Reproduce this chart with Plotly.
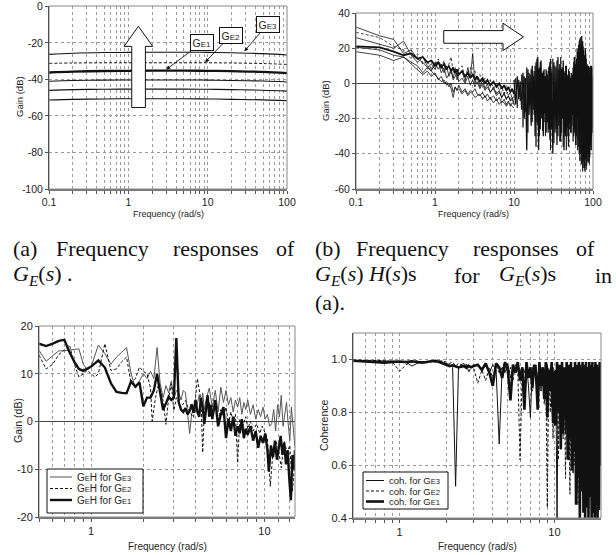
import numpy as np
import plotly.graph_objects as go

W, H = 616, 555
SANS = "Liberation Sans, Arial, sans-serif"
SERIF = "Liberation Serif, Times New Roman, serif"


def px(x):
    return x / W


def py(y):
    return 1 - y / H


# ---------------- Panel (a): G_E(s) gains ----------------
FREQ_A = [0.1, 0.2, 0.5, 1, 2, 5, 10, 20, 50, 100]
GAIN_A1 = [-26.3, -25.7, -25.3, -25.2, -25.1, -25.1, -25.2, -25.4, -25.9, -26.6]
GAIN_A2 = [-31.2, -31.0, -30.9, -30.9, -30.9, -30.9, -30.9, -31.0, -31.3, -31.8]
GAIN_A3 = [-36.2, -35.7, -35.4, -35.3, -35.2, -35.2, -35.3, -35.5, -35.9, -36.6]
GAIN_A4 = [-41.0, -40.6, -40.4, -40.3, -40.3, -40.3, -40.4, -40.6, -40.9, -41.4]
GAIN_A5 = [-46.0, -45.6, -45.4, -45.3, -45.3, -45.3, -45.4, -45.6, -45.9, -46.4]
GAIN_A6 = [-51.3, -50.9, -50.7, -50.6, -50.6, -50.6, -50.7, -50.9, -51.2, -51.7]
ARROW_A_X = [1.104, 1.104, 0.883, 1.34, 2.03, 1.64, 1.64, 1.104]
ARROW_A_Y = [-55.4, -21.9, -21.9, -10.9, -21.9, -21.9, -55.4, -55.4]
LABELS_A = ["G<span style='font-size:8px'>E1</span>",
            "G<span style='font-size:8px'>E2</span>",
            "G<span style='font-size:8px'>E3</span>"]
LABEL_TIP_F = [3.0, 9.3, 29.0]
LABEL_TIP_G = [-34.6, -30.6, -24.6]
LABEL_BOX_F = [8.5, 19.5, 56.9]
LABEL_BOX_G = [-19.9, -15.8, -9.8]

# ---------------- Panel (b): G_E(s)H(s) ----------------
FREQ_B_LOW = [0.1, 0.2, 0.3, 0.4, 0.5, 0.6, 0.7, 0.8, 0.9, 1.0,
              1.1, 1.2, 1.3, 1.4, 1.5, 1.6, 1.7, 1.8, 1.9, 2.0,
              2.2, 2.4, 2.6, 2.8, 3.0, 3.2, 3.4, 3.7, 4.0, 4.3,
              4.6, 5.0, 5.5, 6.0, 6.5, 7.0, 7.5, 8.0, 8.5, 9.0,
              9.5, 10.0]
GAIN_B1 = [32, 27, 25, 17, 19, 14, 12, 9, 11, 8, 12, 6, 9, 3, 5, 8, 2, 4, 6, 1,
           3, 0, 4, -1, 2, -2, 1, -3, 0, -4, -2, -5, -3, -7, -5, -8, -6, -9, -7, -10,
           -8, -11]
GAIN_B2 = [29, 26, 21, 19, 14, 17, 11, 13, 8, 10, 14, 9, 13, 7, 11, 15, 6, 9, 4, 8,
           10, 3, 6, 9, 4, 7, 2, 5, 1, 3, -1, 2, -3, 0, -4, -2, -6, -3, -7, -5,
           -9, -7]
GAIN_B3 = [26, 22, 20, 24, 16, 12, 15, 10, 7, 12, 8, 11, 6, 10, 4, 7, 3, 8, 2, 5,
           7, 1, 9, 3, 17, 0, 4, -2, 2, -3, 0, -5, -2, -6, -4, -8, -5, -9, -7, -10,
           -9, -12]
GAIN_B4 = [21, 20.5, 18, 16, 17, 14, 15, 12, 13, 10, 12, 9, 11, 8, 10, 7, 9, 6, 8, 5,
           7, 4, 6, 3, 5, 2, 4, 1, 3, 0, 2, -1, 1, -2, 0, -3, -1, -4, -2, -5,
           -3, -6]
GAIN_B5 = [20.5, 19, 16, 15, 12, 10, 6, 9, 7, 5, 3, 1, 2, -1, 0, -3, -8, -2, -4, -1,
           -5, -3, -6, -4, -5, -3, -6, -7, -5, -8, -6, -9, -7, -10, -8, -11, -9, -12, -10, -13,
           -11, -12]
GAIN_B6 = [18, 16, 13, 15, 11, 8, 5, 7, 4, 6, 2, 4, 0, 1, -2, 0, -5, -2, -4, -3,
           -6, -4, -7, -5, -6, -8, -7, -6, -9, -7, -10, -8, -11, -9, -12, -10, -11, -13, -11, -12,
           -13, -14]
FREQ_B_HIGH = [10, 10.5, 11, 11.5, 12, 12.5, 13, 13.5, 14, 14.5,
               15, 15.5, 16, 16.5, 17, 17.5, 18, 18.5, 19, 19.5,
               20, 20.5, 21, 21.5, 22, 22.5, 23, 23.5, 24, 24.5,
               25, 25.5, 26, 26.5, 27, 27.5, 28, 28.5, 29, 29.5, 30,
               31, 32, 33, 34, 35, 36, 37, 38, 39, 40,
               41, 42, 43, 44, 45, 46, 47, 48, 49, 50,
               51, 52, 53, 54, 55, 56, 57, 58, 59, 60,
               61, 62, 63, 64, 65, 66, 67, 68, 69, 70,
               71, 72, 73, 74, 75, 76, 77, 78, 79, 80,
               81, 82, 83, 84, 85, 86, 87, 88, 89, 90,
               91, 92, 93, 94, 95, 96, 97, 98, 99, 100]
GAIN_B_HIGH1 = [2, -12, 4, -9, 1, -15, 6, -20, 3, -38,
                8, -18, 5, -24, 10, -15, 7, -30, 12, -22,
                15, -38, 9, -26, 13, -20, 6, -30, 8, -17,
                4, -28, 7, -22, 2, -26, 10, -32, 14, -25, 6,
                -40, 12, -28, 9, -35, 15, -24, 11, -33, 8,
                -20, 13, -38, 6, -30, 10, -25, 4, -36, 7,
                -22, 3, -28, 5, -18, 9, -30, 15, -26, 11,
                -35, 14, -20, 18, -32, 22, -40, 25, -28, 20,
                -45, 27, -38, 24, -48, 19, -42, 16, -50, 20,
                -36, 14, -47, 11, -40, 8, -45, 10, -33, 6,
                -42, 9, -30, 5, -38, 10, -22, 7, -25, -5]
GAIN_B_HIGH2 = [-8, 3, -14, 2, -10, 5, -25, 4, -16, 9,
                -28, 6, -12, 8, -22, 4, -18, 10, -36, 14,
                -24, 8, -30, 12, -16, 5, -27, 7, -22, 3,
                -30, 8, -14, 5, -28, 9, -20, 12, -38, 8, -26,
                14, -34, 10, -26, 13, -30, 8, -33, 15, -28,
                9, -36, 7, -24, 10, -38, 5, -30, 8, -26,
                4, -28, 6, -24, 3, -33, 12, -28, 15, -35,
                10, -30, 20, -38, 17, -36, 24, -44, 26, -40,
                22, -46, 18, -50, 21, -44, 15, -48, 12, -43,
                17, -49, 9, -38, 10, -44, 6, -40, 8, -46,
                4, -35, 10, -32, 6, -30, 9, -28, 4, -20]
ARROW_B_X = [1.29, 7.26, 7.26, 13.2, 7.26, 7.26, 1.29, 1.29]
ARROW_B_Y = [30.0, 30.0, 34.2, 26.4, 18.7, 22.8, 22.8, 30.0]

# ---------------- Panel (c): GEH gains (f, dB) ----------------
GEH_GE3 = [(0.5, 14.9), (0.55, 12.6), (0.6, 13.8), (0.65, 14.8), (0.7, 14.8), (0.75, 15.0),
           (0.8, 15.1), (0.85, 15.2), (0.9, 12.0), (0.95, 10.8), (1.0, 11.5), (1.1, 16.0),
           (1.2, 14.2), (1.3, 12.0), (1.4, 13.5), (1.5, 14.5), (1.6, 15.5), (1.7, 10.0),
           (1.8, 7.0), (1.9, 8.5), (2.0, 10.0), (2.1, 9.0), (2.2, 10.5), (2.3, 9.0),
           (2.4, 15.5), (2.5, 8.0), (2.6, 5.0), (2.7, 7.5), (2.8, 6.0), (2.9, 8.5),
           (3.0, 4.8), (3.1, 6.5), (3.2, 6.0), (3.3, 4.5), (3.4, 6.5), (3.5, 6.0),
           (3.6, 1.0), (3.7, -2.5), (3.8, 1.5), (3.9, 3.0), (4.0, 2.0), (4.1, 4.0),
           (4.2, 5.5), (4.3, 3.0), (4.4, 6.0), (4.5, 2.5), (4.6, 4.5), (4.8, 7.0),
           (5.0, 3.0), (5.2, 6.5), (5.4, 2.0), (5.6, 7.2), (5.8, 4.0), (6.0, 6.5),
           (6.2, 3.5), (6.4, 5.0), (6.6, 2.0), (6.8, 4.5), (7.0, 3.0), (7.2, 5.0),
           (7.4, 1.5), (7.6, 4.0), (7.8, 2.5), (8.0, 4.5), (8.3, 1.5), (8.6, 3.5),
           (8.9, 0.5), (9.2, 2.5), (9.5, 1.0), (9.8, 3.0), (10.1, 0.5), (10.4, 1.5),
           (10.7, -1.0), (11.0, -0.5), (11.3, 2.5), (11.6, -2.0), (11.9, 3.5), (12.2, 1.0),
           (12.5, 5.5), (12.8, -1.0), (13.1, 2.0), (13.4, 4.0), (13.7, -0.5), (14.0, -4.0),
           (14.3, 3.0), (14.6, -1.5), (15.0, -5.5)]
GEH_GE2 = [(0.5, 13.9), (0.55, 11.0), (0.6, 12.0), (0.65, 14.0), (0.7, 15.0), (0.75, 16.0),
           (0.8, 12.0), (0.85, 9.3), (0.9, 10.0), (0.95, 10.7), (1.0, 10.0), (1.05, 9.3),
           (1.1, 10.0), (1.2, 16.3), (1.3, 10.7), (1.4, 11.0), (1.5, 12.5), (1.6, 13.5),
           (1.7, 7.9), (1.8, 9.0), (1.9, 11.4), (2.0, 10.5), (2.1, 10.0), (2.2, 7.0),
           (2.25, 0.1), (2.35, 5.0), (2.45, 7.9), (2.6, 4.4), (2.7, -0.6), (2.8, 5.0),
           (2.9, 7.9), (3.0, 2.3), (3.1, 5.0), (3.3, 3.0), (3.5, 4.4), (3.7, 2.0),
           (3.9, 0.8), (4.1, 9.0), (4.3, 4.4), (4.4, -6.5), (4.5, 2.0), (4.6, 2.3),
           (4.8, 4.0), (5.0, 1.0), (5.2, 3.5), (5.4, 0.5), (5.6, 2.5), (5.8, 1.0),
           (6.0, 3.0), (6.2, -0.5), (6.4, 2.0), (6.6, 0.0), (6.8, 1.5), (7.0, -8.7),
           (7.2, 0.5), (7.5, -1.0), (7.8, 1.0), (8.0, -1.5), (8.3, 0.0), (8.6, -2.0),
           (9.0, -0.5), (9.4, -2.5), (9.7, -1.0), (10.0, -2.0), (10.4, -3.5), (10.8, -13.6),
           (11.2, -6.2), (11.6, -4.0), (12.0, -5.5), (12.5, -9.7), (13.0, -4.0), (13.5, -6.5),
           (14.0, -5.0), (14.5, -14.6), (15.0, -8.0)]
GEH_GE1 = [(0.5, 16.3), (0.55, 15.8), (0.6, 16.3), (0.65, 16.9), (0.7, 17.1), (0.75, 14.5),
           (0.8, 12.5), (0.85, 11.0), (0.9, 10.6), (0.95, 11.0), (1.0, 11.5), (1.1, 12.8),
           (1.2, 11.3), (1.3, 8.0), (1.4, 6.2), (1.5, 6.0), (1.6, 5.9), (1.7, 8.4),
           (1.8, 7.3), (1.9, 8.2), (2.0, 3.2), (2.1, 5.0), (2.2, 5.0), (2.3, 6.5),
           (2.4, 10.0), (2.5, 6.0), (2.6, 2.4), (2.7, 3.8), (2.8, 5.2), (2.9, 4.5),
           (3.0, 5.0), (3.1, 17.5), (3.2, 4.0), (3.3, 2.5), (3.4, 2.0), (3.5, 2.8),
           (3.6, 1.5), (3.7, 2.2), (3.8, 3.6), (3.9, 1.8), (4.0, 4.5), (4.1, 2.0),
           (4.2, 1.0), (4.3, 5.0), (4.4, 3.0), (4.5, -0.5), (4.6, 2.5), (4.7, 5.5),
           (4.8, 1.0), (4.9, 3.5), (5.0, 0.5), (5.2, 4.5), (5.4, -1.0), (5.6, 1.5),
           (5.8, 3.0), (6.0, -3.5), (6.2, 0.5), (6.4, -2.0), (6.6, 1.0), (6.8, -3.0),
           (7.0, -1.0), (7.2, -2.5), (7.4, 0.5), (7.6, -3.5), (7.8, -1.5), (8.0, -2.8),
           (8.3, -1.0), (8.6, -4.0), (8.9, -2.0), (9.2, -5.5), (9.5, -3.0), (9.8, -4.5),
           (10.1, -2.5), (10.4, -6.0), (10.6, -10.5), (10.9, -5.0), (11.2, -7.5), (11.5, -4.0),
           (11.8, -8.0), (12.1, -5.5), (12.4, -3.0), (12.7, -7.0), (13.0, -4.5), (13.3, -9.0),
           (13.6, -6.0), (13.9, -12.0), (14.2, -16.5), (14.5, -7.0), (14.8, -10.0), (15.0, -6.0)]

# ---------------- Panel (d): coherence ----------------
FREQ_D = [0.5, 0.6, 0.7, 0.8, 0.9, 1.0, 1.1, 1.2, 1.3, 1.4, 1.5, 1.6, 1.7, 1.8, 1.9,
          2.0, 2.1, 2.2, 2.3, 2.4, 2.5, 2.6, 2.7, 2.8, 2.9, 3.0,
          3.2, 3.4, 3.6, 3.8, 4.0, 4.2, 4.4, 4.6, 4.8, 5.0, 5.2, 5.4, 5.6, 5.8,
          6.0, 6.2, 6.4, 6.6, 6.8, 7.0, 7.2, 7.4, 7.6, 7.8, 8.0, 8.2, 8.4, 8.6, 8.8,
          9.0, 9.2, 9.4, 9.6, 9.8, 10.0,
          10.2, 10.4, 10.6, 10.8, 11.0, 11.2, 11.4, 11.6, 11.8, 12.0,
          12.2, 12.4, 12.6, 12.8, 13.0, 13.2, 13.4, 13.6, 13.8, 14.0,
          14.2, 14.4, 14.6, 14.8, 15.0, 15.2, 15.4, 15.6, 15.8, 16.0,
          16.2, 16.4, 16.6, 16.8, 17.0, 17.2, 17.4, 17.6, 17.8, 18.0,
          18.2, 18.4, 18.6, 18.8, 19.0, 19.2, 19.4, 19.6, 19.8, 20.0]
COH_GE3 = [0.995, 0.995, 0.994, 0.993, 0.994, 0.992, 0.99, 0.975, 0.985, 0.99,
           0.992, 0.993, 0.99, 0.995, 0.99, 0.985, 0.98, 0.97, 0.52, 0.965,
           0.98, 0.985, 0.975, 0.98, 0.97, 0.975,
           0.98, 0.96, 0.975, 0.95, 0.98, 0.96, 0.68, 0.97, 0.95, 0.985,
           0.93, 0.97, 0.96, 0.99, 0.92, 0.97, 0.95, 0.98, 0.90, 0.78,
           0.97, 0.94, 0.98, 0.92, 0.96, 0.88, 0.97, 0.93, 0.85, 0.98,
           0.90, 0.95, 0.82, 0.97, 0.75,
           0.96, 0.40, 0.95, 0.88, 0.66, 0.97, 0.80, 0.93, 0.72, 0.98,
           0.85, 0.62, 0.95, 0.78, 0.90, 0.57, 0.97, 0.70, 0.92, 0.50,
           0.96, 0.82, 0.65, 0.98, 0.75, 0.88, 0.55, 0.95, 0.68, 0.90,
           0.45, 0.97, 0.80, 0.60, 0.93, 0.72, 0.98, 0.52, 0.88, 0.66,
           0.95, 0.42, 0.85, 0.97, 0.58, 0.90, 0.70, 0.96, 0.62, 0.97]
COH_GE2 = [0.998, 0.997, 0.996, 0.995, 0.99, 0.955, 0.98, 0.99, 0.995, 0.99,
           0.993, 0.995, 0.99, 0.993, 0.995, 0.99, 0.985, 0.99, 0.975, 0.985,
           0.98, 0.97, 0.985, 0.95, 0.975, 0.97,
           0.91, 0.96, 0.92, 0.97, 0.93, 0.98, 0.95, 0.97, 0.99, 0.94,
           0.97, 0.92, 0.98, 0.96, 0.62, 0.96, 0.90, 0.98, 0.93, 0.97,
           0.88, 0.95, 0.98, 0.86, 0.96, 0.90, 0.97, 0.83, 0.95, 0.44,
           0.97, 0.80, 0.94, 0.70, 0.96,
           0.78, 0.97, 0.62, 0.93, 0.85, 0.98, 0.70, 0.90, 0.55, 0.96,
           0.82, 0.95, 0.49, 0.97, 0.75, 0.92, 0.60, 0.98, 0.68, 0.88,
           0.45, 0.96, 0.80, 0.94, 0.52, 0.98, 0.72, 0.90, 0.40, 0.95,
           0.65, 0.97, 0.48, 0.92, 0.78, 0.96, 0.42, 0.88, 0.70, 0.97,
           0.55, 0.93, 0.40, 0.98, 0.66, 0.90, 0.50, 0.96, 0.75, 0.98]
COH_GE1 = [0.995, 0.993, 0.99, 0.988, 0.99, 0.992, 0.99, 0.993, 0.99, 0.988,
           0.99, 0.992, 0.995, 0.99, 0.985, 0.98, 0.975, 0.978, 0.975, 0.97,
           0.972, 0.975, 0.968, 0.975, 0.97, 0.975,
           0.98, 0.96, 0.985, 0.95, 0.90, 0.985, 0.97, 0.93, 0.99, 0.96,
           0.845, 0.98, 0.95, 0.99, 0.92, 0.97, 0.81, 0.99, 0.93, 0.97,
           0.89, 0.98, 0.95, 0.81, 0.99, 0.90, 0.97, 0.85, 0.99, 0.78,
           0.96, 0.88, 0.99, 0.76, 0.95,
           0.75, 0.99, 0.80, 0.98, 0.66, 0.99, 0.72, 0.97, 0.78, 0.99,
           0.62, 0.98, 0.70, 0.99, 0.58, 0.97, 0.65, 0.99, 0.45, 0.98,
           0.55, 0.99, 0.40, 0.97, 0.50, 0.99, 0.42, 0.98, 0.40, 0.99,
           0.44, 0.97, 0.40, 0.99, 0.48, 0.98, 0.40, 0.99, 0.42, 0.97,
           0.40, 0.99, 0.45, 0.98, 0.40, 0.97, 0.43, 0.99, 0.60, 0.98]

# tick values (grid positions) and labels
TICKS_AB = [0.1, 0.2, 0.3, 0.4, 0.5, 0.6, 0.7, 0.8, 0.9,
            1, 2, 3, 4, 5, 6, 7, 8, 9, 10, 20, 30, 40, 50, 60, 70, 80, 90, 100]
LABELS_AB = {0.1: "0.1", 1: "1", 10: "10", 100: "100"}
TICKS_C = [0.5, 0.6, 0.7, 0.8, 0.9, 1, 2, 3, 4, 5, 6, 7, 8, 9, 10, 12, 14]
TICKS_D = [0.5, 0.6, 0.7, 0.8, 0.9, 1, 2, 3, 4, 5, 6, 7, 8, 9, 10]
LABELS_CD = {1: "1", 10: "10"}
YTICKS_A = [-100, -80, -60, -40, -20, 0]
YTICKS_B = [-60, -40, -20, 0, 20, 40]
YTICKS_C = [-20, -10, 0, 10, 20]
YTICKS_D = [0.4, 0.6, 0.8, 1.0]
YTEXT_D = ["0.4", "0.6", "0.8", "1.0"]

SM = "<span style='font-size:7.5px'>"
LEGEND_C = ["G" + SM + "E</span>H for G" + SM + "E3</span>",
            "G" + SM + "E</span>H for G" + SM + "E2</span>",
            "G" + SM + "E</span>H for G" + SM + "E1</span>"]
LEGEND_D = ["coh. for G" + SM + "E3</span>",
            "coh. for G" + SM + "E2</span>",
            "coh. for G" + SM + "E1</span>"]

fig = go.Figure()
BLACK = "#111111"


def line(x, y, ax, width=1.0, dash="solid", color=BLACK, shape="linear", **kw):
    fig.add_trace(go.Scatter(x=x, y=y, mode="lines", xaxis="x" + ax, yaxis="y" + ax,
                             line=dict(color=color, width=width, dash=dash, shape=shape),
                             hoverinfo="skip", showlegend=False, **kw))


# Panel (a)
for g, w, d in [(GAIN_A6, 1.1, "solid"), (GAIN_A5, 1.1, "solid"), (GAIN_A4, 1.1, "solid"),
                (GAIN_A2, 1.0, "3px,2px"), (GAIN_A1, 1.1, "solid"), (GAIN_A3, 2.3, "solid")]:
    line(FREQ_A, g, "", width=w, dash=d, shape="spline")
fig.add_trace(go.Scatter(x=ARROW_A_X, y=ARROW_A_Y, mode="lines", fill="toself",
                         fillcolor="white", line=dict(color=BLACK, width=1),
                         xaxis="x", yaxis="y", showlegend=False, hoverinfo="skip"))

# Panel (b)
for g, w, d in [(GAIN_B1, 0.8, "solid"), (GAIN_B2, 0.8, "3px,2px"), (GAIN_B3, 0.8, "solid"),
                (GAIN_B5, 0.8, "solid"), (GAIN_B6, 0.8, "solid"), (GAIN_B4, 1.8, "solid")]:
    line(FREQ_B_LOW, g, "2", width=w, dash=d)
line(FREQ_B_HIGH, GAIN_B_HIGH2, "2", width=0.8)
line(FREQ_B_HIGH, GAIN_B_HIGH1, "2", width=1.3)
fig.add_trace(go.Scatter(x=ARROW_B_X, y=ARROW_B_Y, mode="lines", fill="toself",
                         fillcolor="white", line=dict(color=BLACK, width=1),
                         xaxis="x2", yaxis="y2", showlegend=False, hoverinfo="skip"))

# Panel (c)
STYLE_C = [(1.0, "solid", "#555555"), (1.0, "3px,2px", BLACK), (2.4, "solid", BLACK)]
for data, (w, d, c), nm in zip([GEH_GE3, GEH_GE2, GEH_GE1], STYLE_C, LEGEND_C):
    line([p[0] for p in data], [p[1] for p in data], "3", width=w, dash=d, color=c, name=nm)

# Panel (d)
STYLE_D = [(1.0, "solid", BLACK), (1.0, "3px,2px", BLACK), (2.6, "solid", BLACK)]
for vals, (w, d, c), nm in zip([COH_GE3, COH_GE2, COH_GE1], STYLE_D, LEGEND_D):
    line(FREQ_D, vals, "4", width=w, dash=d, color=c, name=nm)

GRID = "#9a9a9a"


def xax(dom, rng, ticks, labels, fsize=10.5):
    return dict(type="log", domain=dom, range=rng, tickvals=ticks,
                ticktext=[labels.get(t, "") for t in ticks],
                showgrid=True, gridcolor=GRID, griddash="dot", gridwidth=1,
                ticks="outside", ticklen=3, tickcolor="#555", tickwidth=1,
                showline=True, linecolor="#777", linewidth=1.5,
                tickfont=dict(family=SANS, size=fsize, color="#222"),
                zeroline=False, automargin=False, fixedrange=True)


def yax(dom, rng, vals, texts, anchor, zero, fsize=10.5):
    return dict(domain=dom, range=rng, tickvals=vals, ticktext=texts, anchor=anchor,
                showgrid=True, gridcolor=GRID, griddash="dot", gridwidth=1,
                ticks="outside", ticklen=3, tickcolor="#555", tickwidth=1,
                showline=True, linecolor=BLACK, linewidth=1,
                zeroline=zero, zerolinecolor="#444", zerolinewidth=1.2,
                tickfont=dict(family=SANS, size=fsize, color="#222"),
                automargin=False, fixedrange=True)


def txt(vals):
    return [str(v) for v in vals]


fig.update_layout(
    width=W, height=H, margin=dict(l=0, r=0, t=0, b=0),
    paper_bgcolor="white", plot_bgcolor="white", showlegend=False,
    xaxis=xax([px(49), px(287)], [-1, 2], TICKS_AB, LABELS_AB),
    yaxis=yax([py(189), py(6)], [-100, 0.2], YTICKS_A, txt(YTICKS_A), "x", False),
    xaxis2=xax([px(356), px(593)], [-1, 2], TICKS_AB, LABELS_AB),
    yaxis2=yax([py(189), py(13)], [-60, 40], YTICKS_B, txt(YTICKS_B), "x2", True),
    xaxis3=xax([px(39), px(295)], [np.log10(0.5), np.log10(15)], TICKS_C, LABELS_CD, 11),
    yaxis3=yax([py(517), py(326)], [-20, 20], YTICKS_C, txt(YTICKS_C), "x3", True, 11),
    xaxis4=xax([px(353), px(601)], [np.log10(0.5), np.log10(20)], TICKS_D, LABELS_CD, 11),
    yaxis4=yax([py(518), py(333)], [0.4, 1.1], YTICKS_D, YTEXT_D, "x4", False, 11),
)
fig.layout.xaxis.anchor = "y"
fig.layout.xaxis2.anchor = "y2"
fig.layout.xaxis3.anchor = "y3"
fig.layout.xaxis4.anchor = "y4"

# frames (gray top/right border)
shapes = []
for ax in ["x", "x2", "x3", "x4"]:
    ya = ax.replace("x", "y")
    shapes.append(dict(type="rect", xref=ax + " domain", yref=ya + " domain",
                       x0=0, x1=1, y0=0, y1=1, line=dict(color="#888", width=1),
                       layer="above"))

ann = []
# hand-placed legend boxes (box, sample line, label)
LEG_BOXES = [((47, 469, 143, 513), (50, 72, 75), [477, 488.5, 500], STYLE_C, LEGEND_C, 10),
             ((363, 472, 448, 509), (366, 384, 387), [480.5, 491, 501.5], STYLE_D, LEGEND_D, 9.5)]
for (x0, y0, x1, y1), (sx0, sx1, tx), rows, styles, labels, fs in LEG_BOXES:
    shapes.append(dict(type="rect", xref="paper", yref="paper", x0=px(x0), x1=px(x1),
                       y0=py(y1), y1=py(y0), line=dict(color=BLACK, width=1),
                       fillcolor="white", layer="above"))
    for ry, (w, d, c), lab in zip(rows, styles, labels):
        shapes.append(dict(type="line", xref="paper", yref="paper", x0=px(sx0), x1=px(sx1),
                           y0=py(ry), y1=py(ry), line=dict(color=c, width=w, dash=d),
                           layer="above"))
        ann.append(dict(x=px(tx), y=py(ry), xref="paper", yref="paper", text=lab,
                        showarrow=False, xanchor="left", yanchor="middle",
                        font=dict(family=SANS, size=fs, color="#222")))
fig.update_layout(shapes=shapes)

# GE labels in (a)
for lab, tf, tg, bf, bg in zip(LABELS_A, LABEL_TIP_F, LABEL_TIP_G, LABEL_BOX_F, LABEL_BOX_G):
    ann.append(dict(x=np.log10(tf), y=tg, xref="x", yref="y", axref="x", ayref="y",
                    ax=np.log10(bf), ay=bg, text=lab, showarrow=True, arrowhead=2,
                    arrowsize=0.9, arrowwidth=0.9, arrowcolor=BLACK,
                    font=dict(family=SANS, size=10.5, color="#222"),
                    bgcolor="white", bordercolor=BLACK, borderwidth=1, borderpad=1.5))

# axis titles
AT = [("Gain (dB)", 19, 97, -90, 9.5), ("Frequency (rad/s)", 168, 214, 0, 9),
      ("Gain (dB)", 325, 101, -90, 9.5), ("Frequency (rad/s)", 474, 214, 0, 9),
      ("Gain (dB)", 18, 421, -90, 10.5), ("Frequency (rad/s)", 167, 546, 0, 10),
      ("Coherence", 324, 425, -90, 10.5), ("Frequency (rad/s)", 477, 546, 0, 10)]
for t, x, y, a, s in AT:
    ann.append(dict(x=px(x), y=py(y), xref="paper", yref="paper", text=t, showarrow=False,
                    textangle=a, xanchor="center", yanchor="middle",
                    font=dict(family=SANS, size=s, color="#222")))

# captions (justified words)
GE = "<i>G</i><sub><i>E</i></sub>(<i>s</i>)"
CAPTION = [("(a)", 11, 248), ("Frequency", 54, 248), ("responses", 171, 248), ("of", 274, 248),
           (GE + " .", 11, 275),
           ("(b)", 313, 248), ("Frequency", 354, 248), ("responses", 471, 248), ("of", 574, 248),
           (GE + " <i>H</i>(<i>s</i>)s", 313, 275), ("for", 452, 275), (GE + "s", 497, 275),
           ("in", 593, 275), ("(a).", 313, 302)]
for t, x, y in CAPTION:
    ann.append(dict(x=px(x), y=py(y), xref="paper", yref="paper", text=t, showarrow=False,
                    xanchor="left", yanchor="middle",
                    font=dict(family=SERIF, size=22, color="#111")))
fig.update_layout(annotations=ann)

fig.write_html("out.html", config={"displayModeBar": False},
               post_script="document.body.style.margin='0px';")
